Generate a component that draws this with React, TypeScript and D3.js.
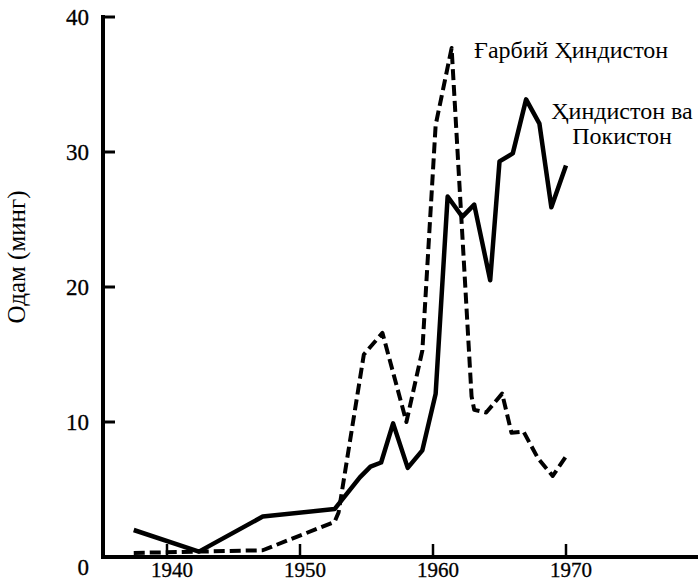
import * as d3 from 'd3';
import React, { useRef, useEffect } from 'react';

// years and values (thousands of people)
const indiaYears = [1937.5, 1942.4, 1947.2, 1952.6, 1954.5, 1955.3, 1956.1, 1957, 1958.1, 1959.2, 1960.2, 1961.1, 1962.2, 1963.1, 1964.3, 1965, 1966, 1967, 1968, 1968.9, 1970];
const indiaValues = [2.0, 0.4, 3.0, 3.55, 5.9, 6.7, 7.0, 9.9, 6.6, 7.9, 12.1, 26.7, 25.2, 26.1, 20.5, 29.3, 29.9, 33.9, 32.1, 25.9, 29.0];

const westIndiesYears = [1937.5, 1942.4, 1947.2, 1952.6, 1952.9, 1954.8, 1956.2, 1958, 1959.2, 1960.2, 1961.4, 1962.9, 1963.1, 1964, 1965.2, 1965.9, 1966.8, 1967.9, 1969, 1970.1];
const westIndiesValues = [0.3, 0.4, 0.5, 2.6, 3.3, 15.0, 16.6, 10.0, 15.3, 32.0, 37.7, 11.9, 10.9, 10.7, 12.1, 9.2, 9.3, 7.3, 6.0, 7.6];

const xTicks = [1940, 1950, 1960, 1970];
const yTicks = [0, 10, 20, 30, 40];

const yLabel = 'Одам (минг)';
const westIndiesLabel = 'Ғарбий Ҳиндистон';
const indiaLabel = ['Ҳиндистон ва', 'Покистон'];

const W = 698;
const H = 583;
const font = '"Liberation Serif", "Times New Roman", serif';

export default function App() {
    const ref = useRef<SVGSVGElement>(null);

    useEffect(() => {
        const svg = d3.select(ref.current);
        svg.selectAll('*').remove();

        const x = d3.scaleLinear().domain([1940, 1970]).range([167, 566]);
        const y = d3.scaleLinear().domain([0, 40]).range([557, 17]);
        const axisX = 103;

        // axes
        svg.append('line')
            .attr('x1', axisX).attr('x2', axisX)
            .attr('y1', y(40) - 2).attr('y2', y(0) + 2)
            .attr('stroke', '#000').attr('stroke-width', 4);
        svg.append('line')
            .attr('x1', axisX - 2).attr('x2', W)
            .attr('y1', y(0)).attr('y2', y(0))
            .attr('stroke', '#000').attr('stroke-width', 4);

        svg.selectAll('.ytick')
            .data(yTicks.filter(d => d > 0))
            .enter().append('line')
            .attr('x1', axisX).attr('x2', axisX + 12)
            .attr('y1', d => y(d)).attr('y2', d => y(d))
            .attr('stroke', '#000').attr('stroke-width', 3);

        svg.selectAll('.xtick')
            .data(xTicks)
            .enter().append('line')
            .attr('x1', d => x(d)).attr('x2', d => x(d))
            .attr('y1', y(0)).attr('y2', y(0) - 13)
            .attr('stroke', '#000').attr('stroke-width', 2.5);

        svg.selectAll('.ylab')
            .data(yTicks)
            .enter().append('text')
            .attr('x', 89)
            .attr('y', d => d === 0 ? y(d) + 10 : y(d))
            .attr('dy', '0.35em')
            .attr('text-anchor', 'end')
            .style('font-family', font)
            .style('font-size', '23px')
            .style('stroke', '#000').style('stroke-width', 0.3)
            .text(d => d);

        svg.selectAll('.xlab')
            .data(xTicks)
            .enter().append('text')
            .attr('x', d => x(d) + 5)
            .attr('y', 577)
            .attr('text-anchor', 'middle')
            .style('font-family', font)
            .style('font-size', '21px')
            .style('stroke', '#000').style('stroke-width', 0.3)
            .text(d => d);

        svg.append('text')
            .attr('transform', 'translate(25,257) rotate(-90)')
            .attr('text-anchor', 'middle')
            .style('font-family', font)
            .style('font-size', '25px')
            .text(yLabel);

        // series
        const line = d3.line<[number, number]>()
            .x(d => x(d[0]))
            .y(d => y(d[1]));

        svg.append('path')
            .datum(westIndiesYears.map((yr, i) => [yr, westIndiesValues[i]] as [number, number]))
            .attr('d', line)
            .attr('fill', 'none')
            .attr('stroke', '#000')
            .attr('stroke-width', 4)
            .attr('stroke-dasharray', '11,5')
            .attr('stroke-linejoin', 'round');

        svg.append('path')
            .datum(indiaYears.map((yr, i) => [yr, indiaValues[i]] as [number, number]))
            .attr('d', line)
            .attr('fill', 'none')
            .attr('stroke', '#000')
            .attr('stroke-width', 4.5)
            .attr('stroke-linejoin', 'round');

        // labels
        svg.append('text')
            .attr('x', 474).attr('y', 58)
            .style('font-family', font)
            .style('font-size', '24px')
            .text(westIndiesLabel);

        svg.selectAll('.ilab')
            .data(indiaLabel)
            .enter().append('text')
            .attr('x', 622)
            .attr('y', (d, i) => 119 + i * 25)
            .attr('text-anchor', 'middle')
            .style('font-family', font)
            .style('font-size', '24px')
            .text(d => d);
    }, []);

    return (
        <svg ref={ref} width={W} height={H}
            style={{ position: 'absolute', left: 0, top: 0, background: '#fff' }} />
    );
}
